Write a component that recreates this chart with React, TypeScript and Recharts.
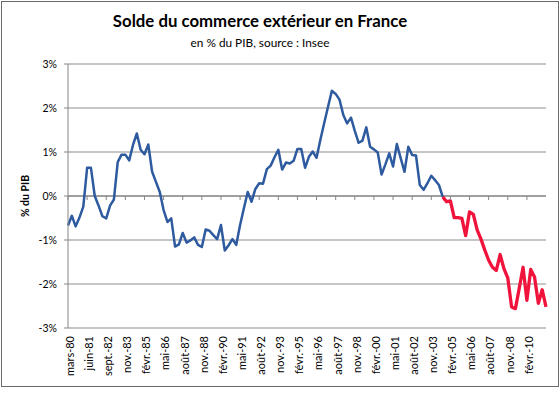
import React from "react"
import {
  CartesianGrid,
  Line,
  LineChart,
  ReferenceLine,
  XAxis,
  YAxis,
} from "recharts"

// Quarterly trade balance, % of GDP, from mars-80 to juin-11
const solde = [
  -0.67, -0.45, -0.69, -0.49, -0.24, 0.64, 0.64, 0.0, -0.22, -0.46,
  -0.51, -0.22, -0.08, 0.77, 0.94, 0.94, 0.81, 1.16, 1.42, 1.05,
  0.95, 1.17, 0.55, 0.32, 0.09, -0.32, -0.59, -0.51, -1.15, -1.1,
  -0.84, -1.06, -1.01, -0.94, -1.11, -1.16, -0.76, -0.79, -0.89, -0.98,
  -0.66, -1.24, -1.12, -0.98, -1.11, -0.66, -0.28, 0.09, -0.13, 0.16,
  0.29, 0.28, 0.61, 0.69, 0.88, 1.05, 0.6, 0.76, 0.74, 0.8,
  1.07, 1.07, 0.64, 0.89, 1.01, 0.87, 1.28, 1.66, 2.03, 2.39,
  2.32, 2.19, 1.84, 1.65, 1.78, 1.48, 1.21, 1.26, 1.56, 1.12,
  1.06, 0.99, 0.49, 0.72, 0.97, 0.67, 1.18, 0.86, 0.55, 1.12,
  0.93, 0.92, 0.25, 0.14, 0.29, 0.46, 0.36, 0.25, -0.02, -0.13,
  -0.11, -0.49, -0.49, -0.51, -0.9, -0.36, -0.42, -0.77, -0.98, -1.23,
  -1.46, -1.62, -1.69, -1.33, -1.65, -1.86, -2.52, -2.56, -2.1, -1.62,
  -2.37, -1.67, -1.84, -2.44, -2.13, -2.52,
]

// index where the line turns red
const debutRouge = 98

const tickLabels = [
  "mars-80", "juin-81", "sept.-82", "nov.-83", "févr.-85", "mai-86",
  "août-87", "nov.-88", "févr.-90", "mai-91", "août-92", "nov.-93",
  "févr.-95", "mai-96", "août-97", "nov.-98", "févr.-00", "mai-01",
  "août-02", "nov.-03", "févr.-05", "mai-06", "août-07", "nov.-08",
  "févr.-10",
]

const yTicks = [-3, -2, -1, 0, 1, 2, 3]

const data = solde.map((v, i) => ({
  m: i * 3,
  bleu: i <= debutRouge ? v : null,
  rouge: i >= debutRouge ? v : null,
}))

const W = 560
const H = 394
const TOP = 64
const BOTTOM = 66
const FONT = "Lato, 'Open Sans', sans-serif"
const ZERO_Y = TOP + (H - TOP - BOTTOM) / 2

function DateTick(props: any) {
  const { x, payload } = props
  const label = tickLabels[Math.round(payload.value / 15)] ?? ""
  const ty = H - BOTTOM + 8
  return (
    <g>
      <line x1={x} x2={x} y1={ZERO_Y} y2={ZERO_Y + 4} stroke="#868686" />
      <text
        x={x + 2}
        y={ty}
        transform={`rotate(-90, ${x + 2}, ${ty})`}
        textAnchor="end"
        dy="0.35em"
        fontSize={11}
        fontFamily={FONT}
        fill="#000"
      >
        {label}
      </text>
    </g>
  )
}

export default function App() {
  return (
    <div style={{ position: "absolute", left: 0, top: 0, width: W, height: H, background: "#fff" }}>
      <div
        style={{
          position: "absolute",
          left: 1,
          top: 1,
          width: 558,
          height: 386,
          boxSizing: "border-box",
          border: "1px solid #6a6a6a",
        }}
      />
      <div
        style={{
          position: "absolute",
          left: 60,
          width: 400,
          top: 10,
          textAlign: "center",
          fontFamily: FONT,
          fontWeight: 700,
          fontSize: 16.8,
          color: "#000",
        }}
      >
        Solde du commerce extérieur en France
      </div>
      <div
        style={{
          position: "absolute",
          left: 60,
          width: 400,
          top: 35,
          textAlign: "center",
          fontFamily: FONT,
          fontSize: 11.8,
          color: "#000",
        }}
      >
        en % du PIB, source : Insee
      </div>
      <div
        style={{
          position: "absolute",
          left: 25,
          top: 196,
          transform: "translate(-50%, -50%) rotate(-90deg)",
          fontFamily: FONT,
          fontWeight: 700,
          fontSize: 10.5,
          whiteSpace: "nowrap",
          color: "#000",
        }}
      >
        % du PIB
      </div>
      <LineChart
        width={W}
        height={H}
        data={data}
        margin={{ top: TOP, right: 14, left: 0, bottom: 0 }}
        style={{ position: "absolute", left: 0, top: 0 }}
      >
        <CartesianGrid vertical={false} stroke="#8c8c8c" />
        <XAxis
          dataKey="m"
          type="number"
          domain={[0, 375]}
          ticks={tickLabels.map((_, k) => k * 15)}
          interval={0}
          height={BOTTOM}
          axisLine={false}
          tickLine={false}
          tick={<DateTick />}
        />
        <YAxis
          domain={[-3, 3]}
          ticks={yTicks}
          width={68}
          stroke="#868686"
          tickSize={4}
          tickMargin={7}
          tickFormatter={(v: number) => `${v}%`}
          tick={{ fontSize: 10.5, fontFamily: FONT, fill: "#000" }}
        />
        <ReferenceLine y={0} stroke="#7a7a7a" />
        <Line
          dataKey="bleu"
          stroke="#2E5A9F"
          strokeWidth={2.5}
          dot={false}
          isAnimationActive={false}
          strokeLinejoin="round"
        />
        <Line
          dataKey="rouge"
          stroke="#F0143C"
          strokeWidth={3.3}
          dot={false}
          isAnimationActive={false}
          strokeLinejoin="round"
        />
      </LineChart>
    </div>
  )
}
